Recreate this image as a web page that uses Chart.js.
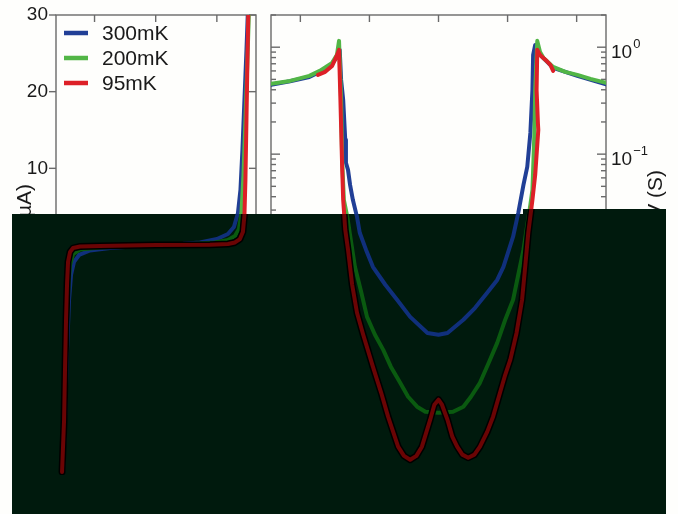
<!DOCTYPE html>
<html>
<head>
<meta charset="utf-8">
<script src="https://cdn.jsdelivr.net/npm/chart.js@4/dist/chart.umd.min.js"></script>
<style>
  html, body { margin: 0; padding: 0; background: #fefefc; }
  #wrap { position: relative; width: 678px; height: 514px; overflow: hidden; }
  #ivBox { position: absolute; left: 0; top: 0; width: 263px; height: 514px; }
  #gBox { position: absolute; left: 263px; top: 0; width: 415px; height: 514px; }
</style>
</head>
<body>
<div id="wrap">
  <div id="ivBox"><canvas id="ivCanvas"></canvas></div>
  <div id="gBox"><canvas id="gCanvas"></canvas></div>
</div>
<script>
/* =========================
   Data (V in mV, I in µA, dI/dV in S)
========================= */
const seriesLabels = ["300mK", "200mK", "95mK"];

const ivVoltTicks = [-1, 0, 1];
const ivCurrentTicks = [-30, -20, -10, 0, 10, 20, 30];
const gVoltTicks = [-2, -1, 0, 1, 2];
const gDecades = [-4, -3, -2, -1, 0];

// I-V curves
const iv300V = [-1.515, -1.482, -1.449, -1.417, -1.384, -1.335, -1.253, -1.074, -0.747, -0.371, 0, 0.446, 0.724, 1.002, 1.181, 1.279, 1.345, 1.386, 1.418, 1.451, 1.484, 1.508];
const iv300I = [-29.6, -22.8, -13.7, -7.2, -3.9, -2.2, -1.3, -0.72, -0.39, -0.2, 0, 0.17, 0.33, 0.78, 1.43, 2.35, 4.17, 7.2, 12.4, 18.9, 25.4, 30.6];

const iv200V = [-1.515, -1.482, -1.449, -1.425, -1.4, -1.351, -1.237, -0.91, -0.42, 0, 0.56, 0.969, 1.181, 1.296, 1.361, 1.402, 1.435, 1.467, 1.5, 1.525];
const iv200I = [-29.6, -20.2, -9.8, -5.2, -2.6, -1.2, -0.6, -0.33, -0.17, 0, 0.13, 0.33, 0.65, 1.17, 2.1, 4.2, 9.1, 16.3, 24.1, 30.6];

const iv95V = [-1.531, -1.498, -1.482, -1.466, -1.449, -1.433, -1.4, -1.351, -1.237, -0.91, 0, 0.887, 1.181, 1.296, 1.377, 1.426, 1.451, 1.467, 1.484, 1.5, 1.516];
const iv95I = [-29.6, -22.8, -15.9, -9.8, -5.0, -2.2, -0.9, -0.4, -0.2, -0.13, 0, 0.03, 0.13, 0.33, 0.78, 1.7, 3.9, 8.5, 16.3, 24.1, 31];

// Differential conductance curves
const g300V = [-2.425, -2.15, -1.87, -1.72, -1.54, -1.47, -1.43, -1.41, -1.38, -1.35, -1.34, -1.31, -1.28, -1.24, -1.18, -1.14, -1.05, -0.95, -0.77, -0.6, -0.41, -0.16, 0, 0.13, 0.36, 0.53, 0.705, 0.85, 0.94, 1.02, 1.08, 1.155, 1.23, 1.285, 1.33, 1.36, 1.37, 1.4, 1.46, 1.66, 2.01, 2.425];
const g300G = [0.444, 0.48, 0.527, 0.588, 0.698, 0.811, 0.944, 0.494, 0.322, 0.136, 0.083, 0.0713, 0.0516, 0.0374, 0.0259, 0.0184, 0.0128, 0.00885, 0.00601, 0.00435, 0.00301, 0.00213, 0.00205, 0.00213, 0.00283, 0.00366, 0.00505, 0.00667, 0.00885, 0.0128, 0.0169, 0.0282, 0.0516, 0.076, 0.158, 0.399, 0.847, 1.05, 0.86, 0.64, 0.539, 0.45];

const g200V = [-2.425, -2.15, -1.87, -1.72, -1.54, -1.47, -1.44, -1.41, -1.395, -1.37, -1.32, -1.27, -1.21, -1.12, -1.035, -0.92, -0.8, -0.69, -0.555, -0.44, -0.31, -0.19, 0, 0.21, 0.36, 0.47, 0.6, 0.735, 0.85, 0.966, 1.08, 1.155, 1.23, 1.285, 1.33, 1.36, 1.39, 1.4, 1.43, 1.47, 1.52, 1.66, 1.835, 2.01, 2.2, 2.425];
const g200G = [0.454, 0.484, 0.539, 0.601, 0.713, 0.847, 1.146, 0.322, 0.0885, 0.0374, 0.0259, 0.0158, 0.00885, 0.00517, 0.00301, 0.00205, 0.00148, 0.00103, 0.000728, 0.000539, 0.000435, 0.00039, 0.000382, 0.00039, 0.000435, 0.000539, 0.000728, 0.00115, 0.00172, 0.00283, 0.00435, 0.00745, 0.0128, 0.0219, 0.0336, 0.0464, 0.169, 0.399, 1.146, 0.904, 0.794, 0.655, 0.588, 0.551, 0.506, 0.464];

const g95V = [-1.745, -1.64, -1.54, -1.48, -1.44, -1.42, -1.405, -1.395, -1.38, -1.35, -1.31, -1.25, -1.18, -1.09, -0.95, -0.83, -0.73, -0.585, -0.5, -0.41, -0.32, -0.24, -0.12, -0.06, 0, 0.05, 0.13, 0.2, 0.27, 0.345, 0.43, 0.52, 0.6, 0.705, 0.79, 0.89, 0.966, 1.04, 1.13, 1.21, 1.255, 1.3, 1.36, 1.4, 1.445, 1.44, 1.42, 1.43, 1.47, 1.55, 1.62, 1.66];
const g95G = [0.551, 0.588, 0.669, 0.811, 0.944, 0.322, 0.136, 0.076, 0.0374, 0.0196, 0.0128, 0.00601, 0.00329, 0.00205, 0.00103, 0.000587, 0.000351, 0.000184, 0.000151, 0.000139, 0.000151, 0.000184, 0.000329, 0.000454, 0.000506, 0.000454, 0.000329, 0.000228, 0.000184, 0.000155, 0.000145, 0.000155, 0.000184, 0.000253, 0.000351, 0.000587, 0.000865, 0.0012, 0.00213, 0.00435, 0.00885, 0.0184, 0.0374, 0.0641, 0.169, 0.191, 0.399, 0.944, 0.847, 0.76, 0.683, 0.601];

/* =========================
   Styles
========================= */
const FONT = '"Liberation Sans", Arial, Helvetica, sans-serif';
const brightColors = ["#213f96", "#52b646", "#dd2027"];
const dimColors = ["#10307c", "#0a5a10", "#6a0404"];
const frameColor = "#6a6a6a";
const textColor = "#1a1a1a";
const shadeColor = "#001a0d";

Chart.defaults.font.family = FONT;
Chart.defaults.animation = false;

function pairs(xs, ys) {
  return xs.map((x, i) => ({ x: x, y: ys[i] }));
}

function makeDatasets(seriesData) {
  return seriesData.map((d, i) => ({
    label: seriesLabels[i],
    data: pairs(d[0], d[1]),
    borderColor: brightColors[i],
    borderWidth: 4,
    pointRadius: 0,
    tension: 0,
    borderJoinStyle: "round",
    borderCapStyle: "round",
    order: 2 - i
  }));
}

/* =========================
   Plugins
========================= */
function line(ctx, x1, y1, x2, y2) {
  ctx.beginPath();
  ctx.moveTo(x1, y1);
  ctx.lineTo(x2, y2);
  ctx.stroke();
}

// dark band over the lower part, curves redrawn dimmed inside it
const shadePlugin = {
  id: "shade",
  afterDatasetsDraw(chart, args, opts) {
    const ctx = chart.ctx;
    const ox = opts.offsetX;
    const a = chart.chartArea;
    ctx.save();
    ctx.beginPath();
    ctx.moveTo(12 - ox, 214);
    ctx.lineTo(523 - ox, 214);
    ctx.lineTo(523 - ox, 209);
    ctx.lineTo(666 - ox, 209);
    ctx.lineTo(666 - ox, 514);
    ctx.lineTo(12 - ox, 514);
    ctx.closePath();
    ctx.fillStyle = shadeColor;
    ctx.fill();
    ctx.clip();
    ctx.beginPath();
    ctx.rect(a.left, a.top, a.right - a.left, a.bottom - a.top);
    ctx.clip();
    ctx.lineJoin = "round";
    ctx.lineCap = "round";
    chart.data.datasets.forEach((ds, i) => {
      const pts = chart.getDatasetMeta(i).data;
      ctx.beginPath();
      pts.forEach((p, k) => (k ? ctx.lineTo(p.x, p.y) : ctx.moveTo(p.x, p.y)));
      if (i === 2) {
        ctx.strokeStyle = "#000";
        ctx.lineWidth = 7;
        ctx.stroke();
      }
      ctx.strokeStyle = dimColors[i];
      ctx.lineWidth = 4;
      ctx.stroke();
    });
    ctx.restore();
  }
};

const ivAxesPlugin = {
  id: "ivAxes",
  beforeDatasetsDraw(chart) {
    const ctx = chart.ctx;
    const a = chart.chartArea;
    const xs = chart.scales.x, ys = chart.scales.y;
    ctx.save();
    ctx.strokeStyle = frameColor;
    ctx.lineWidth = 1.4;
    ctx.strokeRect(a.left, a.top, a.right - a.left, a.bottom - a.top);
    ivVoltTicks.forEach(v => {
      const x = xs.getPixelForValue(v);
      line(ctx, x, a.top, x, a.top + 7);
    });
    ivCurrentTicks.forEach(v => {
      const y = ys.getPixelForValue(v);
      line(ctx, a.left - 7, y, a.left, y);
      line(ctx, a.right - 7, y, a.right, y);
    });
    // y axis title
    ctx.fillStyle = textColor;
    ctx.font = "21px " + FONT;
    ctx.translate(31, 184);
    ctx.rotate(-Math.PI / 2);
    ctx.textAlign = "right";
    ctx.fillText("I (µA)", 0, 0);
    ctx.restore();
  },
  afterDraw(chart) {
    const ctx = chart.ctx;
    ctx.save();
    ctx.font = "21px " + FONT;
    ctx.textBaseline = "middle";
    seriesLabels.forEach((lab, i) => {
      const y = 33 + i * 25;
      ctx.strokeStyle = brightColors[i];
      ctx.lineWidth = 4.5;
      line(ctx, 64, y, 88, y);
      ctx.fillStyle = textColor;
      ctx.fillText(lab, 102, y + 1);
    });
    ctx.restore();
  }
};

const gAxesPlugin = {
  id: "gAxes",
  beforeDatasetsDraw(chart) {
    const ctx = chart.ctx;
    const a = chart.chartArea;
    const xs = chart.scales.x, ys = chart.scales.y;
    ctx.save();
    ctx.strokeStyle = frameColor;
    ctx.lineWidth = 1.4;
    ctx.strokeRect(a.left, a.top, a.right - a.left, a.bottom - a.top);
    gVoltTicks.forEach(v => {
      const x = xs.getPixelForValue(v);
      line(ctx, x, a.top, x, a.top + 7);
    });
    gDecades.forEach(d => {
      for (let m = 1; m <= 9; m++) {
        const v = m * Math.pow(10, d);
        if (v > ys.max) continue;
        const y = ys.getPixelForValue(v);
        const len = m === 1 ? 9 : 5;
        line(ctx, a.left, y, a.left + len, y);
        line(ctx, a.right - len, y, a.right, y);
      }
    });
    // right tick labels 10^n
    ctx.fillStyle = textColor;
    gDecades.forEach(d => {
      const y = ys.getPixelForValue(Math.pow(10, d));
      ctx.font = "19px " + FONT;
      ctx.fillText("10", a.right + 5, y + 11);
      const w = ctx.measureText("10").width;
      ctx.font = "13px " + FONT;
      ctx.fillText(d === 0 ? "0" : "\u2212" + (-d), a.right + 6 + w, y + 1);
    });
    // right axis title
    ctx.font = "21px " + FONT;
    ctx.translate(662 - 263, 170);
    ctx.rotate(-Math.PI / 2);
    ctx.textAlign = "right";
    ctx.fillText("dI/dV (S)", 0, 0);
    ctx.restore();
  }
};

/* =========================
   I-V panel
========================= */
new Chart(document.getElementById("ivCanvas"), {
  type: "line",
  data: {
    datasets: makeDatasets([[iv300V, iv300I], [iv200V, iv200I], [iv95V, iv95I]])
  },
  options: {
    responsive: true,
    maintainAspectRatio: false,
    layout: { padding: { top: 15, right: 7, bottom: 39, left: 0 } },
    plugins: {
      legend: { display: false },
      tooltip: { enabled: false },
      shade: { offsetX: 0 }
    },
    scales: {
      x: { type: "linear", min: -1.63, max: 1.64, display: false },
      y: {
        type: "linear",
        min: -30,
        max: 30,
        afterFit: (scale) => { scale.width = 56; },
        afterBuildTicks: (scale) => { scale.ticks = ivCurrentTicks.map(v => ({ value: v })); },
        grid: { display: false },
        border: { display: false },
        ticks: { color: textColor, font: { size: 19 }, padding: 0 }
      }
    }
  },
  plugins: [ivAxesPlugin, shadePlugin]
});

/* =========================
   dI/dV panel (log scale)
========================= */
new Chart(document.getElementById("gCanvas"), {
  type: "line",
  data: {
    datasets: makeDatasets([[g300V, g300G], [g200V, g200G], [g95V, g95G]])
  },
  options: {
    responsive: true,
    maintainAspectRatio: false,
    layout: { padding: { top: 15, right: 72, bottom: 39, left: 8 } },
    plugins: {
      legend: { display: false },
      tooltip: { enabled: false },
      shade: { offsetX: 263 }
    },
    scales: {
      x: { type: "linear", min: -2.425, max: 2.425, display: false },
      y: { type: "logarithmic", min: 1e-4, max: 2, display: false }
    }
  },
  plugins: [gAxesPlugin, shadePlugin]
});
</script>
</body>
</html>
